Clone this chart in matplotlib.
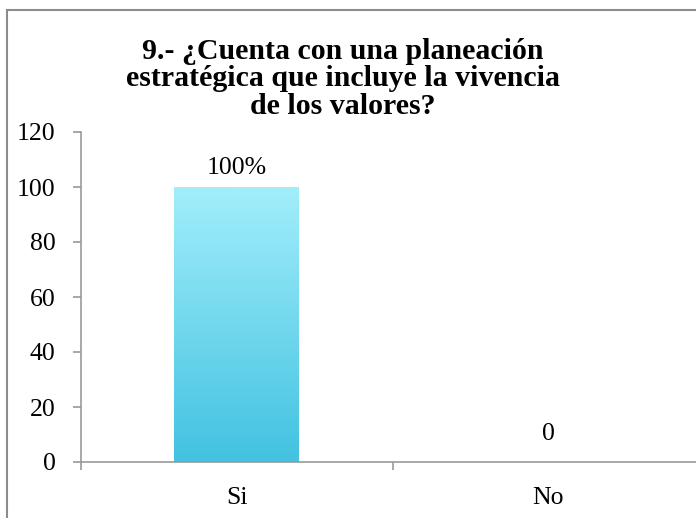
import matplotlib.pyplot as plt
from matplotlib.colors import LinearSegmentedColormap
from matplotlib.patches import Rectangle
import numpy as np

categories = ['Si', 'No']
values = [100, 0]
labels = ['100%', '0']
yticks = [0, 20, 40, 60, 80, 100, 120]

plt.rcParams['font.family'] = ['Liberation Serif', 'DejaVu Serif']

fig = plt.figure(figsize=(6.96, 5.18), dpi=100)
# outer chart frame, cut off on the right and bottom like the original
fig.patches.append(Rectangle((7/696, -0.1), 1.2, 1 - 10/518 + 0.1, transform=fig.transFigure,
                             fill=False, edgecolor='#8c8c8c', linewidth=1.5))

ax = fig.add_axes([80.5/696, 1 - 462/518, 624/696, 330/518])
x = np.arange(len(categories))
bars = ax.bar(x, values, width=0.4, color='none', edgecolor='none')

grad = LinearSegmentedColormap.from_list('g', ['#42c2e1', '#a2eefb'])
for b in bars:
    if b.get_height() > 0:
        im = ax.imshow(np.linspace(0, 1, 256).reshape(-1, 1), cmap=grad, aspect='auto', origin='lower',
                       extent=[b.get_x(), b.get_x() + b.get_width(), 0, b.get_height()], zorder=2)
        im.set_clip_path(b)

# data labels (excel puts the zero label a bit higher)
for xi, v, lab in zip(x, values, labels):
    off = 14 if v > 0 else 20.5
    ax.annotate(lab, (xi, v), xytext=(0, off), textcoords='offset points',
                ha='center', va='center', fontsize=18.5)

ax.set_xlim(-0.5, 1.5)
ax.set_ylim(0, 120)
ax.set_yticks(yticks)
ax.set_xticks([-0.5, 0.5, 1.5])
ax.set_xticklabels([])
ax.set_xticks(x, minor=True)
ax.set_xticklabels(categories, minor=True, fontsize=18.5)
ax.tick_params(axis='x', which='minor', length=0, pad=18)
ax.tick_params(axis='x', which='major', length=6, color='#999999', width=1.2)
ax.tick_params(axis='y', length=6, color='#999999', width=1.2, labelsize=18.5, pad=12)
for s in ['top', 'right']:
    ax.spines[s].set_visible(False)
for s in ['left', 'bottom']:
    ax.spines[s].set_color('#999999')
    ax.spines[s].set_linewidth(1.2)

fig.text(343/696, 1 - 79/518, '9.- ¿Cuenta con una planeación\nestratégica que incluye la vivencia\nde los valores?',
         ha='center', va='center', fontsize=21.5, fontweight='bold', linespacing=1.02)

fig.savefig('out.png', dpi=100)
